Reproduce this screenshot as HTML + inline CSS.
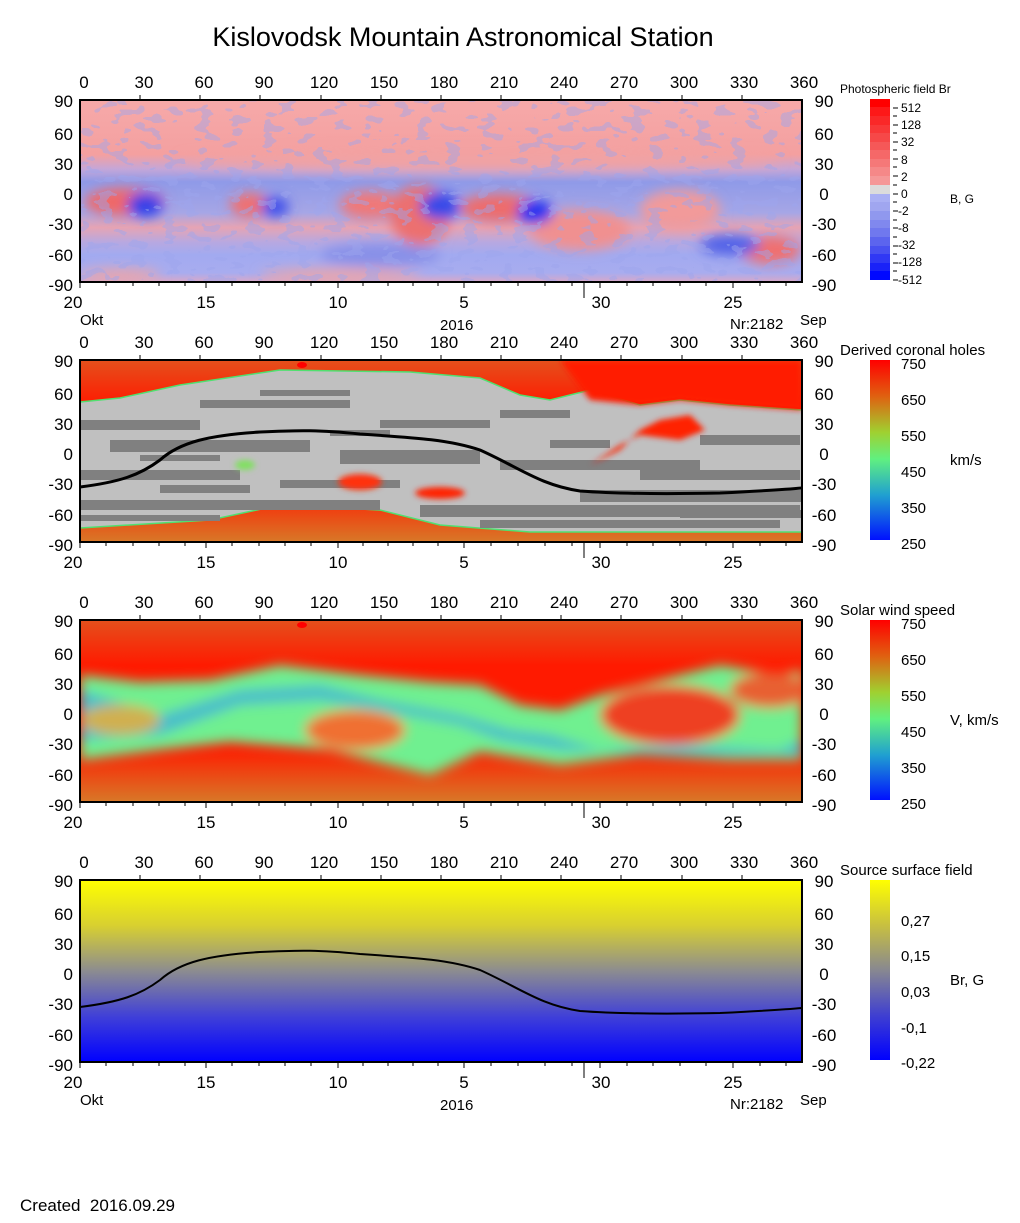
<!DOCTYPE html>
<html><head><meta charset="utf-8"><style>
html,body{margin:0;padding:0;background:#fff}
svg{display:block}
text{font-family:"Liberation Sans",Arial,sans-serif;fill:#000}
.t{font-size:17px}
.s{font-size:12px}
.m{font-size:15px}
</style></head><body>
<svg width="1020" height="1223" viewBox="0 0 1020 1223" xmlns="http://www.w3.org/2000/svg">
<defs>
<filter id="b6" x="-20%" y="-20%" width="140%" height="140%"><feGaussianBlur stdDeviation="6"/></filter>
<filter id="b3"><feGaussianBlur stdDeviation="3"/></filter>
<filter id="noise" x="0" y="0" width="100%" height="100%">
<feTurbulence type="fractalNoise" baseFrequency="0.06 0.12" numOctaves="2" seed="4" result="n"/>
<feComponentTransfer in="n" result="a"><feFuncA type="discrete" tableValues="0 0 0 1 1"/></feComponentTransfer>
<feComposite in="SourceGraphic" in2="a" operator="in"/>
</filter>
<linearGradient id="g1" x1="0" y1="0" x2="0" y2="1">
<stop offset="0" stop-color="#f6a9a9"/><stop offset="0.3" stop-color="#f4a0a0"/>
<stop offset="0.38" stop-color="#c4a6d8"/><stop offset="0.45" stop-color="#8f9ae8"/>
<stop offset="0.62" stop-color="#a6a6e6"/><stop offset="0.7" stop-color="#e6a4b4"/>
<stop offset="0.78" stop-color="#b8a8e0"/><stop offset="0.85" stop-color="#a2aaf0"/>
<stop offset="0.95" stop-color="#a8acef"/><stop offset="1" stop-color="#d8a8c8"/>
</linearGradient>
<linearGradient id="gr" x1="0" y1="0" x2="0" y2="1">
<stop offset="0" stop-color="#e4501c"/><stop offset="0.25" stop-color="#ff1a00"/>
<stop offset="0.7" stop-color="#ff1a00"/><stop offset="1" stop-color="#d87828"/>
</linearGradient>
<linearGradient id="gs" x1="0" y1="0" x2="0" y2="1">
<stop offset="0" stop-color="#ffff00"/><stop offset="0.25" stop-color="#d8d030"/>
<stop offset="0.5" stop-color="#8c8c90"/><stop offset="0.75" stop-color="#4040d8"/>
<stop offset="1" stop-color="#0000ff"/>
</linearGradient>
<linearGradient id="gc" x1="0" y1="0" x2="0" y2="1">
<stop offset="0" stop-color="#ff0000"/><stop offset="0.2" stop-color="#e06010"/>
<stop offset="0.4" stop-color="#a0d030"/><stop offset="0.55" stop-color="#60f080"/>
<stop offset="0.75" stop-color="#20a0d0"/><stop offset="1" stop-color="#0010ff"/>
</linearGradient>
<linearGradient id="gsb" x1="0" y1="0" x2="0" y2="1">
<stop offset="0" stop-color="#ffff00"/><stop offset="0.25" stop-color="#c8c040"/>
<stop offset="0.5" stop-color="#888890"/><stop offset="0.75" stop-color="#4040d0"/>
<stop offset="1" stop-color="#0000ff"/>
</linearGradient>
<clipPath id="cp"><rect x="0" y="0" width="722" height="182"/></clipPath>
</defs>

<text x="463" y="46" text-anchor="middle" style="font-size:27px">Kislovodsk Mountain Astronomical Station</text>

<!-- PANEL 1 -->
<g transform="translate(80,100)" clip-path="url(#cp)">
<rect width="722" height="182" fill="url(#g1)"/>
<g filter="url(#b6)">
<ellipse cx="45" cy="102" rx="40" ry="14" fill="#f06868"/>
<ellipse cx="170" cy="105" rx="20" ry="12" fill="#f07070"/>
<ellipse cx="290" cy="105" rx="30" ry="14" fill="#f07878"/>
<ellipse cx="340" cy="115" rx="30" ry="30" fill="#ec7070"/>
<ellipse cx="420" cy="108" rx="40" ry="14" fill="#ee6c6c"/>
<ellipse cx="500" cy="130" rx="50" ry="20" fill="#f09090"/>
<ellipse cx="600" cy="110" rx="40" ry="20" fill="#f29a9a"/>
<ellipse cx="690" cy="150" rx="30" ry="14" fill="#f07070"/>
<ellipse cx="65" cy="105" rx="18" ry="12" fill="#3040e8"/>
<ellipse cx="195" cy="107" rx="14" ry="10" fill="#4050ea"/>
<ellipse cx="360" cy="106" rx="20" ry="14" fill="#3848e8"/>
<ellipse cx="455" cy="112" rx="18" ry="12" fill="#2030f0"/>
<ellipse cx="300" cy="155" rx="60" ry="12" fill="#8890e8"/>
<ellipse cx="650" cy="145" rx="30" ry="10" fill="#5060e8"/>
<ellipse cx="260" cy="175" rx="80" ry="6" fill="#f0a4a4"/>
<ellipse cx="40" cy="175" rx="40" ry="6" fill="#f0a4a4"/>
<ellipse cx="400" cy="60" rx="300" ry="10" fill="#f2a2a2"/>
</g>
<rect width="722" height="182" fill="#9ea6ee" filter="url(#noise)" opacity="0.45"/>
</g>
<rect x="80" y="100" width="722" height="182" fill="none" stroke="#000" stroke-width="2"/>

<!-- PANEL 2 -->
<g transform="translate(80,360)" clip-path="url(#cp)">
<rect width="722" height="182" fill="url(#gr)"/>
<path d="M0,42 L40,38 L100,25 L200,10 L330,12 L400,18 L440,35 L470,40 L510,30 L560,45 L600,40 L650,45 L722,50 L722,172 L450,172 L360,165 L300,150 L200,145 L130,160 L0,168 Z" fill="#c0c0c0" stroke="#50e070" stroke-width="1.5"/>
<g fill="#808080">
<path d="M0,60 h120 v10 h-120z M30,80 h200 v12 h-200z M0,110 h160 v10 h-160z M260,90 h140 v14 h-140z M300,60 h110 v8 h-110z M420,100 h200 v10 h-200z M500,130 h222 v12 h-222z M0,140 h300 v10 h-300z M340,145 h380 v12 h-380z M120,40 h150 v8 h-150z M560,110 h160 v10 h-160z M200,120 h120 v8 h-120z M620,75 h100 v10 h-100z M400,160 h300 v8 h-300z M60,95 h80 v6 h-80z M180,30 h90 v6 h-90z M420,50 h70 v8 h-70z M250,70 h60 v6 h-60z M470,80 h60 v8 h-60z M80,125 h90 v8 h-90z M600,150 h122 v8 h-122z M0,155 h140 v6 h-140z"/>
</g>
<g filter="url(#b3)">
<path d="M510,40 L560,45 L600,40 L650,45 L722,50 L722,0 L480,0 Z" fill="#ff1a00"/>
<path d="M510,105 L540,85 L560,75 L600,80 L625,70 L610,55 L580,60 L560,70 L540,90 Z" fill="#ff2000"/>
<ellipse cx="280" cy="122" rx="22" ry="8" fill="#ff3010"/>
<ellipse cx="360" cy="133" rx="25" ry="6" fill="#ff2000"/>
<ellipse cx="165" cy="105" rx="10" ry="5" fill="#80e060"/>
</g>
<ellipse cx="222" cy="5" rx="5" ry="3" fill="#ff0000"/>
<path d="M0,127 C40,122 60,115 80,100 C100,82 130,75 180,72 C220,70 240,70 280,74 C340,78 370,80 400,90 C440,108 460,125 500,131 C540,134 590,134 640,133 C680,131 700,130 722,128" fill="none" stroke="#000" stroke-width="3"/>
</g>
<rect x="80" y="360" width="722" height="182" fill="none" stroke="#000" stroke-width="2"/>

<!-- PANEL 3 -->
<g transform="translate(80,620)" clip-path="url(#cp)">
<rect width="722" height="182" fill="url(#gr)"/>
<g filter="url(#b6)">
<path d="M0,55 L60,62 L130,60 L200,45 L280,55 L350,62 L400,65 L440,85 L480,90 L520,75 L580,60 L640,45 L700,55 L722,50 L722,140 L650,140 L560,135 L480,145 L400,132 L350,155 L250,130 L150,122 L80,130 L0,140 Z" fill="#70f090"/>
<path d="M0,70 L80,95 L160,70 L240,65 L300,80 L380,95 L430,110 L470,115 L520,130 L600,125 L700,130 L722,120 L722,135 L600,135 L480,130 L420,120 L380,105 L300,90 L240,80 L160,85 L80,115 L0,120 Z" fill="#40b0d8" opacity="0.8"/>
<ellipse cx="275" cy="110" rx="50" ry="20" fill="#f07030"/>
<ellipse cx="40" cy="100" rx="40" ry="15" fill="#d0b050"/>
<ellipse cx="590" cy="95" rx="70" ry="30" fill="#ee4020"/>
<ellipse cx="690" cy="70" rx="40" ry="18" fill="#e86030"/>
</g>
<ellipse cx="222" cy="5" rx="5" ry="3" fill="#ff0000"/>
</g>
<rect x="80" y="620" width="722" height="182" fill="none" stroke="#000" stroke-width="2"/>

<!-- PANEL 4 -->
<g transform="translate(80,880)" clip-path="url(#cp)">
<rect width="722" height="182" fill="url(#gs)"/>
<path d="M0,127 C40,122 60,115 80,100 C100,82 130,75 180,72 C220,70 240,70 280,74 C340,78 370,80 400,90 C440,108 460,125 500,131 C540,134 590,134 640,133 C680,131 700,130 722,128" fill="none" stroke="#000" stroke-width="2"/>
</g>
<rect x="80" y="880" width="722" height="182" fill="none" stroke="#000" stroke-width="2"/>

<g class="t" text-anchor="middle">
<text x="84" y="88">0</text><text x="144" y="88">30</text><text x="204" y="88">60</text><text x="264" y="88">90</text><text x="324" y="88">120</text><text x="384" y="88">150</text><text x="444" y="88">180</text><text x="504" y="88">210</text><text x="564" y="88">240</text><text x="624" y="88">270</text><text x="684" y="88">300</text><text x="744" y="88">330</text><text x="804" y="88">360</text>
<text x="84" y="348">0</text><text x="144" y="348">30</text><text x="204" y="348">60</text><text x="264" y="348">90</text><text x="324" y="348">120</text><text x="384" y="348">150</text><text x="444" y="348">180</text><text x="504" y="348">210</text><text x="564" y="348">240</text><text x="624" y="348">270</text><text x="684" y="348">300</text><text x="744" y="348">330</text><text x="804" y="348">360</text>
<text x="84" y="608">0</text><text x="144" y="608">30</text><text x="204" y="608">60</text><text x="264" y="608">90</text><text x="324" y="608">120</text><text x="384" y="608">150</text><text x="444" y="608">180</text><text x="504" y="608">210</text><text x="564" y="608">240</text><text x="624" y="608">270</text><text x="684" y="608">300</text><text x="744" y="608">330</text><text x="804" y="608">360</text>
<text x="84" y="868">0</text><text x="144" y="868">30</text><text x="204" y="868">60</text><text x="264" y="868">90</text><text x="324" y="868">120</text><text x="384" y="868">150</text><text x="444" y="868">180</text><text x="504" y="868">210</text><text x="564" y="868">240</text><text x="624" y="868">270</text><text x="684" y="868">300</text><text x="744" y="868">330</text><text x="804" y="868">360</text>
<text x="73" y="308">20</text><text x="206" y="308">15</text><text x="338" y="308">10</text><text x="464" y="308">5</text><text x="601" y="308">30</text><text x="733" y="308">25</text>
<text x="73" y="568">20</text><text x="206" y="568">15</text><text x="338" y="568">10</text><text x="464" y="568">5</text><text x="601" y="568">30</text><text x="733" y="568">25</text>
<text x="73" y="828">20</text><text x="206" y="828">15</text><text x="338" y="828">10</text><text x="464" y="828">5</text><text x="601" y="828">30</text><text x="733" y="828">25</text>
<text x="73" y="1088">20</text><text x="206" y="1088">15</text><text x="338" y="1088">10</text><text x="464" y="1088">5</text><text x="601" y="1088">30</text><text x="733" y="1088">25</text>
</g>
<g class="m">
<text x="80" y="325">Okt</text><text x="440" y="330">2016</text><text x="730" y="329">Nr:2182</text><text x="800" y="325">Sep</text>
<text x="80" y="1105">Okt</text><text x="440" y="1110">2016</text><text x="730" y="1109">Nr:2182</text><text x="800" y="1105">Sep</text>
</g>
<g class="t" text-anchor="end">
<text x="73" y="107">90</text><text x="73" y="140">60</text><text x="73" y="170">30</text><text x="73" y="200">0</text><text x="73" y="230">-30</text><text x="73" y="261">-60</text><text x="73" y="291">-90</text>
<text x="73" y="367">90</text><text x="73" y="400">60</text><text x="73" y="430">30</text><text x="73" y="460">0</text><text x="73" y="490">-30</text><text x="73" y="521">-60</text><text x="73" y="551">-90</text>
<text x="73" y="627">90</text><text x="73" y="660">60</text><text x="73" y="690">30</text><text x="73" y="720">0</text><text x="73" y="750">-30</text><text x="73" y="781">-60</text><text x="73" y="811">-90</text>
<text x="73" y="887">90</text><text x="73" y="920">60</text><text x="73" y="950">30</text><text x="73" y="980">0</text><text x="73" y="1010">-30</text><text x="73" y="1041">-60</text><text x="73" y="1071">-90</text>
</g>
<g class="t" text-anchor="middle">
<text x="824" y="107">90</text><text x="824" y="140">60</text><text x="824" y="170">30</text><text x="824" y="200">0</text><text x="824" y="230">-30</text><text x="824" y="261">-60</text><text x="824" y="291">-90</text>
<text x="824" y="367">90</text><text x="824" y="400">60</text><text x="824" y="430">30</text><text x="824" y="460">0</text><text x="824" y="490">-30</text><text x="824" y="521">-60</text><text x="824" y="551">-90</text>
<text x="824" y="627">90</text><text x="824" y="660">60</text><text x="824" y="690">30</text><text x="824" y="720">0</text><text x="824" y="750">-30</text><text x="824" y="781">-60</text><text x="824" y="811">-90</text>
<text x="824" y="887">90</text><text x="824" y="920">60</text><text x="824" y="950">30</text><text x="824" y="980">0</text><text x="824" y="1010">-30</text><text x="824" y="1041">-60</text><text x="824" y="1071">-90</text>
</g>
<g stroke="#000" stroke-width="1">
<path d="M140,100v-5M200,100v-5M260,100v-5M321,100v-5M381,100v-5M441,100v-5M501,100v-5M561,100v-5M621,100v-5M682,100v-5M742,100v-5"/>
<path d="M140,360v-5M200,360v-5M260,360v-5M321,360v-5M381,360v-5M441,360v-5M501,360v-5M561,360v-5M621,360v-5M682,360v-5M742,360v-5"/>
<path d="M140,620v-5M200,620v-5M260,620v-5M321,620v-5M381,620v-5M441,620v-5M501,620v-5M561,620v-5M621,620v-5M682,620v-5M742,620v-5"/>
<path d="M140,880v-5M200,880v-5M260,880v-5M321,880v-5M381,880v-5M441,880v-5M501,880v-5M561,880v-5M621,880v-5M682,880v-5M742,880v-5"/>
<path d="M80,282v6M106,282v4M133,282v4M159,282v4M185,282v4M206,282v6M232,282v4M259,282v4M285,282v4M311,282v4M338,282v6M363,282v4M388,282v4M413,282v4M438,282v4M464,282v6M491,282v4M518,282v4M545,282v4M572,282v4M584,282v16M600,282v6M627,282v4M653,282v4M680,282v4M706,282v4M733,282v6M760,282v4M786,282v4"/>
<path d="M80,542v6M106,542v4M133,542v4M159,542v4M185,542v4M206,542v6M232,542v4M259,542v4M285,542v4M311,542v4M338,542v6M363,542v4M388,542v4M413,542v4M438,542v4M464,542v6M491,542v4M518,542v4M545,542v4M572,542v4M584,542v16M600,542v6M627,542v4M653,542v4M680,542v4M706,542v4M733,542v6M760,542v4M786,542v4"/>
<path d="M80,802v6M106,802v4M133,802v4M159,802v4M185,802v4M206,802v6M232,802v4M259,802v4M285,802v4M311,802v4M338,802v6M363,802v4M388,802v4M413,802v4M438,802v4M464,802v6M491,802v4M518,802v4M545,802v4M572,802v4M584,802v16M600,802v6M627,802v4M653,802v4M680,802v4M706,802v4M733,802v6M760,802v4M786,802v4"/>
<path d="M80,1062v6M106,1062v4M133,1062v4M159,1062v4M185,1062v4M206,1062v6M232,1062v4M259,1062v4M285,1062v4M311,1062v4M338,1062v6M363,1062v4M388,1062v4M413,1062v4M438,1062v4M464,1062v6M491,1062v4M518,1062v4M545,1062v4M572,1062v4M584,1062v16M600,1062v6M627,1062v4M653,1062v4M680,1062v4M706,1062v4M733,1062v6M760,1062v4M786,1062v4"/>
<path d="M893,108h5M893,116h4M893,125h5M893,133h4M893,142h5M893,150h4M893,159h5M893,167h4M893,176h5M893,185h4M893,194h5M893,202h4M893,211h5M893,220h4M893,228h5M893,237h4M893,246h5M893,254h4M893,263h5M893,271h4M893,280h5"/>
</g>

<text x="840" y="93" class="s">Photospheric field Br</text>
<g>
<rect x="870" y="99" width="20" height="8" fill="#ff0000"/>
<rect x="870" y="107" width="20" height="9" fill="#fd1818"/>
<rect x="870" y="116" width="20" height="9" fill="#fa2828"/>
<rect x="870" y="125" width="20" height="8" fill="#f83838"/>
<rect x="870" y="133" width="20" height="9" fill="#f64848"/>
<rect x="870" y="142" width="20" height="8" fill="#f55858"/>
<rect x="870" y="150" width="20" height="9" fill="#f56868"/>
<rect x="870" y="159" width="20" height="8" fill="#f57878"/>
<rect x="870" y="167" width="20" height="9" fill="#f58888"/>
<rect x="870" y="176" width="20" height="9" fill="#f59898"/>
<rect x="870" y="185" width="20" height="9" fill="#dcdcdc"/>
<rect x="870" y="194" width="20" height="8" fill="#aab0f4"/>
<rect x="870" y="202" width="20" height="9" fill="#a0a6f0"/>
<rect x="870" y="211" width="20" height="9" fill="#9098ee"/>
<rect x="870" y="220" width="20" height="8" fill="#8088ee"/>
<rect x="870" y="228" width="20" height="9" fill="#7078ee"/>
<rect x="870" y="237" width="20" height="9" fill="#5c64ee"/>
<rect x="870" y="246" width="20" height="8" fill="#4850f0"/>
<rect x="870" y="254" width="20" height="9" fill="#3038f4"/>
<rect x="870" y="263" width="20" height="8" fill="#1a22f8"/>
<rect x="870" y="271" width="20" height="9" fill="#0008ff"/>
</g>
<g class="s">
<text x="901" y="112">512</text><text x="901" y="129">128</text><text x="901" y="146">32</text><text x="901" y="164">8</text><text x="901" y="181">2</text><text x="901" y="198">0</text><text x="898" y="215">-2</text><text x="898" y="232">-8</text><text x="898" y="249">-32</text><text x="898" y="266">-128</text><text x="898" y="284">-512</text>
</g>
<text x="950" y="203" class="s">B, G</text>

<text x="840" y="355" class="m">Derived coronal holes</text>
<rect x="870" y="360" width="20" height="180" fill="url(#gc)"/>
<g class="m"><text x="901" y="369">750</text><text x="901" y="405">650</text><text x="901" y="441">550</text><text x="901" y="477">450</text><text x="901" y="513">350</text><text x="901" y="549">250</text></g>
<text x="950" y="465" class="m">km/s</text>

<text x="840" y="615" class="m">Solar wind speed</text>
<rect x="870" y="620" width="20" height="180" fill="url(#gc)"/>
<g class="m"><text x="901" y="629">750</text><text x="901" y="665">650</text><text x="901" y="701">550</text><text x="901" y="737">450</text><text x="901" y="773">350</text><text x="901" y="809">250</text></g>
<text x="950" y="725" class="m">V, km/s</text>

<text x="840" y="875" class="m">Source surface field</text>
<rect x="870" y="880" width="20" height="180" fill="url(#gsb)"/>
<g class="m"><text x="901" y="926">0,27</text><text x="901" y="961">0,15</text><text x="901" y="997">0,03</text><text x="901" y="1033">-0,1</text><text x="901" y="1068">-0,22</text></g>
<text x="950" y="985" class="m">Br, G</text>

<text x="20" y="1211" class="t">Created&#160; 2016.09.29</text>
</svg>
</body></html>
